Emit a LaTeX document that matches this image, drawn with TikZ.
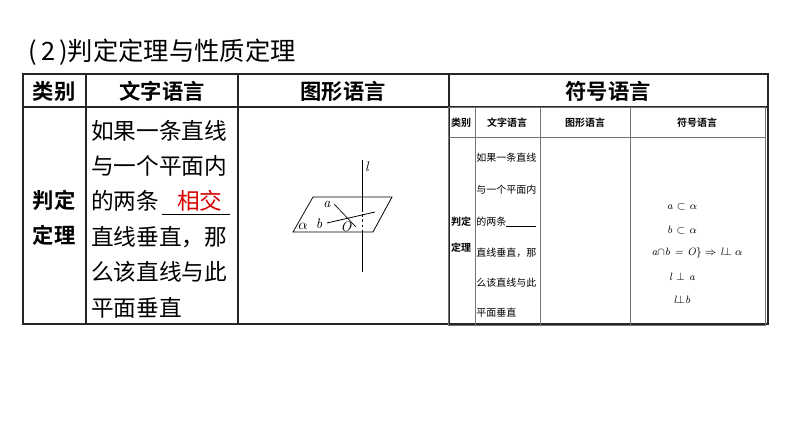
\documentclass[tikz,border=0pt]{standalone}
\usepackage{fontspec}
\newfontfamily\cjk{Noto Sans CJK SC}
\newfontfamily\cjkb{Noto Sans CJK SC Bold}
\begin{document}
\begin{tikzpicture}[x=0.75pt,y=-0.75pt,
  tl/.style={line width=1.2pt,draw=black!85},
  nl/.style={line width=0.5pt,draw=black!55},
  body/.style={font=\cjk\fontsize{17}{20}\selectfont,inner sep=0pt,anchor=west},
  head/.style={font=\cjkb\fontsize{16}{19}\selectfont,inner sep=0pt},
  sm/.style={font=\cjk\fontsize{7.5}{9}\selectfont,inner sep=0pt,anchor=west},
  smb/.style={font=\cjkb\fontsize{7.5}{9}\selectfont,inner sep=0pt},
  sym/.style={font=\fontsize{8}{9}\selectfont\itshape,inner sep=0pt},
  lab/.style={font=\fontsize{10.5}{11}\selectfont\itshape,inner sep=0pt}]
\useasboundingbox (0,0) rectangle (794,447);
\fill[white] (0,0) rectangle (794,447);
\node[font=\cjk\fontsize{19}{22}\selectfont,anchor=west,inner sep=0pt] (title) at (28,52) {(\,2\,)判定定理与性质定理};
% outer table
\draw[tl] (23,74) rectangle (768,324);
\draw[tl] (23,107) -- (768,107);
\draw[tl] (86,74) -- (86,324);
\draw[tl] (238,74) -- (238,324);
\draw[tl] (449,74) -- (449,324);
\node[head] (h1) at (54,91) {类别};
\node[head] (h2) at (162,91) {文字语言};
\node[head] (h3) at (343,91) {图形语言};
\node[head] (h4) at (608,91) {符号语言};
\node[head] (r1a) at (54,200) {判定};
\node[head] (r1b) at (54,235) {定理};
\node[body] (t1) at (91,131) {如果一条直线};
\node[body] (t2) at (91,166) {与一个平面内};
\node[body] (t3) at (91,201) {的两条};
\node[body,text=red!85!black] (t3r) at (177,201) {相交};
\draw[line width=0.6pt] (162,214) -- (230,214);
\node[body] (t4) at (91,237) {直线垂直，那};
\node[body] (t5) at (91,272) {么该直线与此};
\node[body] (t6) at (91,308) {平面垂直};
% figure
\draw[line width=0.6pt] (293,232) -- (313,197) -- (392,197) -- (373,232) -- cycle;
\draw[line width=0.6pt] (362,160) -- (362,212);
\draw[line width=0.6pt,dash pattern=on 2pt off 2pt] (362,214) -- (362,232);
\draw[line width=0.6pt] (362,232) -- (362,272);
\draw[line width=0.5pt] (334,204) -- (356,227);
\draw[line width=0.6pt] (327,223) -- (375,212);
\node[lab] (la) at (327,204) {a};
\node[lab] (lb) at (319,224) {b};
\node[lab] (lO) at (346,227) {O};
\node[lab] (lal) at (303,226) {$\alpha$};
\node[lab] (ll) at (367,167) {l};
% nested table
\draw[nl] (448,107) rectangle (765,325);
\draw[nl] (448,137) -- (765,137);
\draw[nl] (475,107) -- (475,325);
\draw[nl] (540,107) -- (540,325);
\draw[nl] (630,107) -- (630,325);
\node[smb] (n1) at (461,123) {类别};
\node[smb] (n2) at (507,123) {文字语言};
\node[smb] (n3) at (585,123) {图形语言};
\node[smb] (n4) at (697,123) {符号语言};
\node[smb] (n5) at (461,222) {判定};
\node[smb] (n6) at (461,248) {定理};
\node[sm] (s1) at (476,158) {如果一条直线};
\node[sm] (s2) at (476,190) {与一个平面内};
\node[sm] (s3) at (476,222) {的两条\rule[-1pt]{22pt}{0.4pt}};
\node[sm] (s4) at (476,253) {直线垂直，那};
\node[sm] (s5) at (476,283) {么该直线与此};
\node[sm] (s6) at (476,313) {平面垂直};
\node[sym] (y1) at (682,207) {a $\subset$ $\alpha$};
\node[sym] (y2) at (682,230) {b $\subset$ $\alpha$};
\node[sym] (y3) at (697,253) {a$\cap$b = O$\}\Rightarrow$ l$\perp\alpha$};
\node[sym] (y4) at (682,277) {l $\perp$ a};
\node[sym] (y5) at (682,300) {l$\perp$b};
\end{tikzpicture}
\end{document}
